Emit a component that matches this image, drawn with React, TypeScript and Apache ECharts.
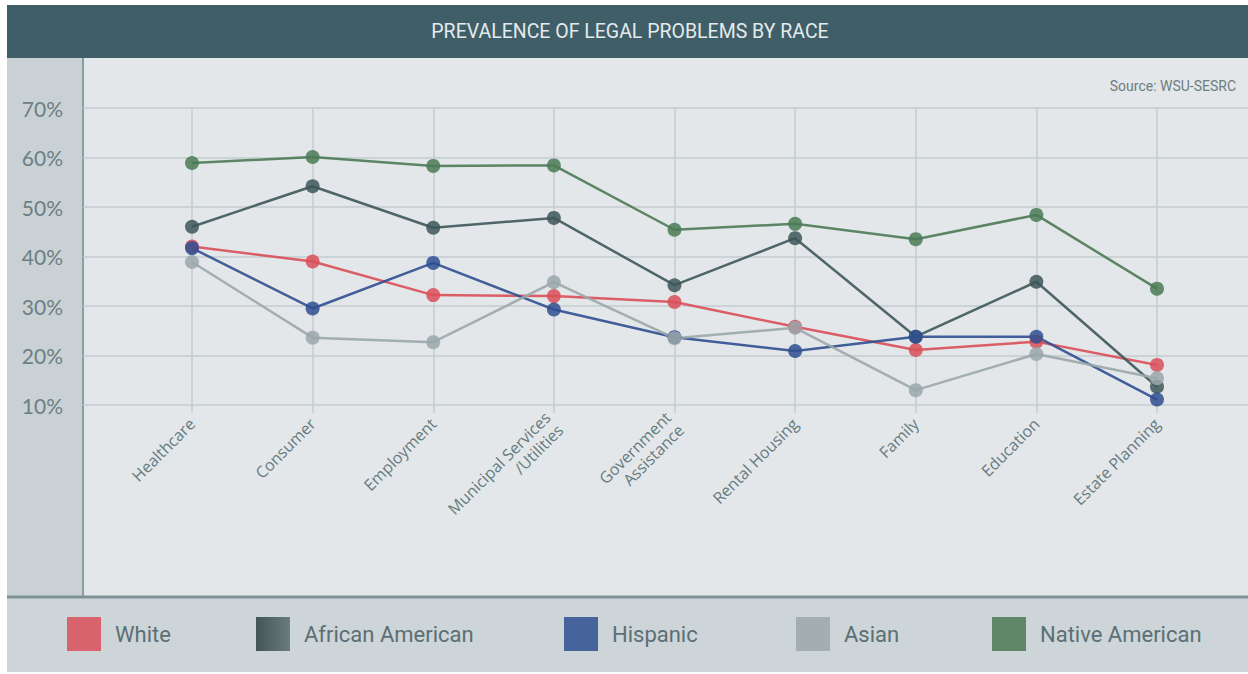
import React, { useEffect, useRef } from "react";
import * as echarts from "echarts";

const categories = [
  "Healthcare",
  "Consumer",
  "Employment",
  "Municipal Services\n/Utilities",
  "Government\nAssistance",
  "Rental Housing",
  "Family",
  "Education",
  "Estate Planning",
];

const white = [42, 39, 32.2, 32, 30.8, 25.8, 21.1, 22.8, 18.1];
const africanAmerican = [46, 54.2, 45.8, 47.8, 34.2, 43.7, 23.8, 34.9, 13.7];
const hispanic = [41.7, 29.5, 38.7, 29.3, 23.7, 20.9, 23.8, 23.8, 11.1];
const asian = [38.9, 23.6, 22.7, 34.8, 23.5, 25.6, 13.0, 20.3, 15.4];
const nativeAmerican = [58.9, 60.1, 58.3, 58.4, 45.4, 46.6, 43.5, 48.4, 33.5];

const yTicks = [10, 20, 30, 40, 50, 60, 70];

const seriesDefs = [
  { name: "White", data: white, color: "#d94f59" },
  { name: "African American", data: africanAmerican, color: "#3e5659" },
  { name: "Hispanic", data: hispanic, color: "#2f4f91" },
  { name: "Asian", data: asian, color: "#9aa7aa" },
  { name: "Native American", data: nativeAmerican, color: "#4b7a56" },
];

const legendLefts = [62, 251, 559, 791, 987];

export default function App() {
  const ref = useRef<HTMLDivElement>(null);
  useEffect(() => {
    document.body.style.margin = "0";
    const chart = echarts.init(ref.current!, null, { renderer: "svg" });
    const gridColor = "#c4ccd0";
    const option: any = {
      animation: false,
      graphic: [
        { type: "rect", z: -10, shape: { x: 7, y: 5, width: 1241, height: 53 }, style: { fill: "#405e68" } },
        { type: "rect", z: -10, shape: { x: 7, y: 58, width: 1241, height: 539 }, style: { fill: "#e3e7e9" } },
        { type: "rect", z: -10, shape: { x: 7, y: 58, width: 76, height: 539 }, style: { fill: "#c9d1d4" } },
        { type: "line", z: -9, shape: { x1: 83, y1: 58, x2: 83, y2: 597 }, style: { stroke: "#8c9ca0", lineWidth: 2 } },
        { type: "rect", z: -10, shape: { x: 7, y: 597, width: 1241, height: 75 }, style: { fill: "#cdd5d8" } },
        { type: "line", z: -9, shape: { x1: 7, y1: 597, x2: 1248, y2: 597 }, style: { stroke: "#7f9397", lineWidth: 3 } },
        {
          type: "text",
          z: 100,
          x: 630,
          y: 31,
          style: {
            text: "PREVALENCE OF LEGAL PROBLEMS BY RACE",
            fill: "#e4ebed",
            font: "19.5px Roboto",
            textAlign: "center",
            textVerticalAlign: "middle",
          },
        },
        {
          type: "text",
          z: 100,
          x: 1236,
          y: 86,
          style: {
            text: "Source: WSU-SESRC",
            fill: "#6e7d81",
            font: "14px Roboto",
            textAlign: "right",
            textVerticalAlign: "middle",
          },
        },
      ],
      grid: [
        { left: 83, right: 0, top: 108, height: 297 },
        { left: 192, width: 965, top: 108, height: 297 },
      ],
      xAxis: [
        { type: "value", gridIndex: 0, show: false },
        {
          type: "category",
          gridIndex: 1,
          data: categories,
          boundaryGap: false,
          axisLine: { show: false },
          axisTick: { show: true, length: 8, lineStyle: { color: gridColor, width: 1.5 } },
          splitLine: { show: true, lineStyle: { color: gridColor, width: 1.5 } },
          axisLabel: {
            rotate: 45,
            interval: 0,
            margin: 16,
            color: "#667b80",
            fontSize: 16,
            fontFamily: "Open Sans",
            lineHeight: 18,
          },
        },
      ],
      yAxis: [
        {
          type: "value",
          gridIndex: 0,
          min: 10,
          max: 70,
          interval: 10,
          axisLine: { show: false },
          axisTick: { show: false },
          splitLine: { lineStyle: { color: gridColor, width: 1.5 } },
          axisLabel: {
            formatter: (v: number) => (yTicks.includes(v) ? v + "%" : ""),
            margin: 20,
            color: "#6b7f85",
            fontSize: 21,
            fontFamily: "Lato",
          },
        },
        { type: "value", gridIndex: 1, min: 10, max: 70, show: false },
      ],
      legend: seriesDefs.map((s, i) => ({
        left: legendLefts[i],
        top: 612,
        icon: "rect",
        itemWidth: 34,
        itemHeight: 34,
        textStyle: { fontSize: 22, color: "#5b6f75", fontFamily: "Roboto", padding: [0, 0, 0, 9] },
        data: [
          s.name === "African American"
            ? {
                name: s.name,
                itemStyle: {
                  color: new echarts.graphic.LinearGradient(0, 0, 1, 0, [
                    { offset: 0, color: "#2b3d40" },
                    { offset: 1, color: "#5a6d70" },
                  ]),
                },
              }
            : { name: s.name },
        ],
      })),
      series: seriesDefs.map((s) => ({
        name: s.name,
        type: "line",
        xAxisIndex: 1,
        yAxisIndex: 1,
        data: s.data,
        symbol: "circle",
        symbolSize: 14,
        color: s.color,
        lineStyle: { width: 2.5, color: s.color, opacity: 0.9 },
        itemStyle: { color: s.color, opacity: 0.85 },
      })),
    };
    chart.setOption(option);
    return () => chart.dispose();
  }, []);
  return <div ref={ref} style={{ width: 1248, height: 674 }} />;
}
